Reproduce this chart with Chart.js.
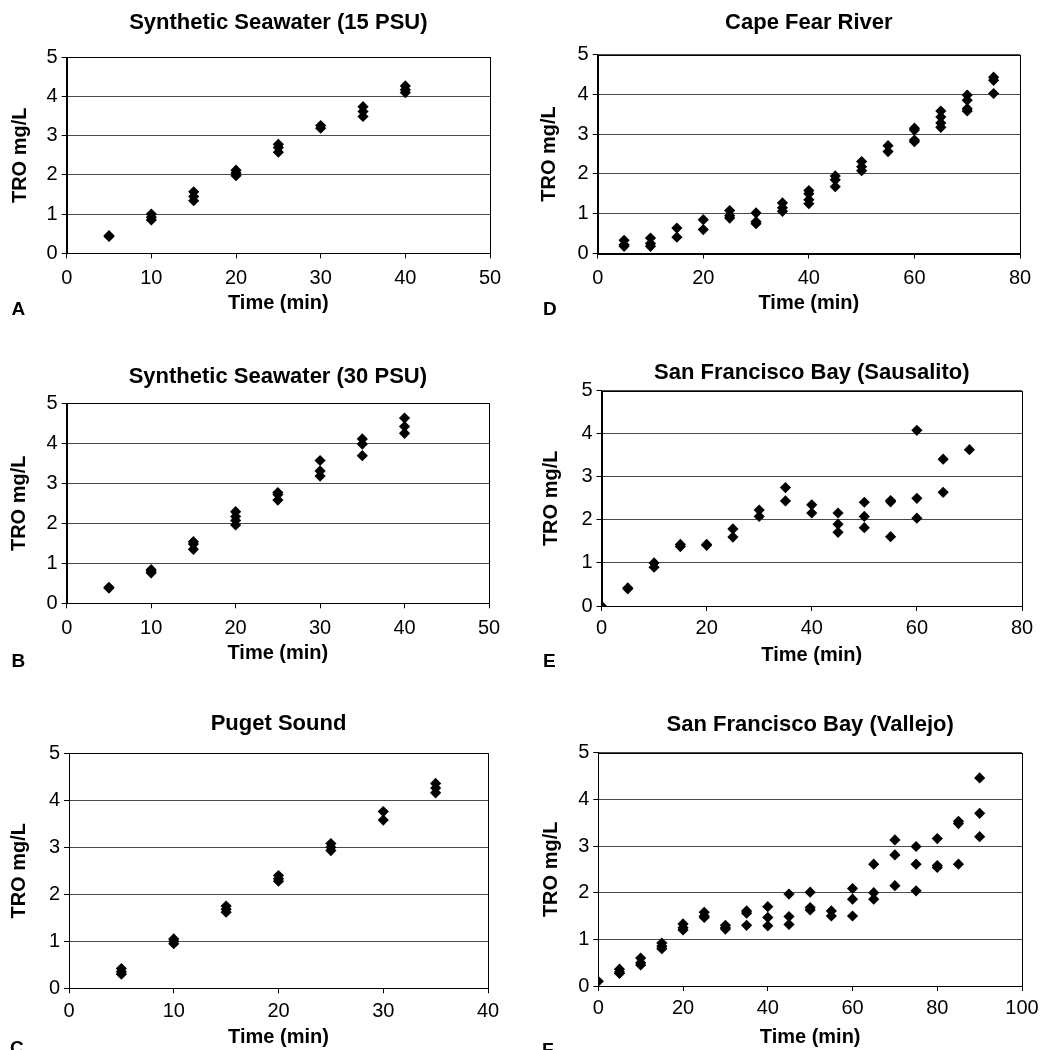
<!DOCTYPE html>
<html>
<head>
<meta charset="utf-8">
<script src="https://cdn.jsdelivr.net/npm/chart.js@4.4.1/dist/chart.umd.min.js"></script>
<style>
  html, body { margin: 0; padding: 0; background: #fff; overflow: hidden; width: 1043px; height: 1050px; }
  canvas { position: absolute; }
</style>
</head>
<body>
<script>
// ---- data ----
const panelTitles = ['Synthetic Seawater (15 PSU)', 'Synthetic Seawater (30 PSU)', 'Puget Sound',
                     'Cape Fear River', 'San Francisco Bay (Sausalito)', 'San Francisco Bay (Vallejo)'];
const panelLetters = ['A', 'B', 'C', 'D', 'E', 'F'];
const xAxisTitle = 'Time (min)';
const yAxisTitle = 'TRO mg/L';
const yTickValues = [0, 1, 2, 3, 4, 5];
const xMaxValues = [50, 50, 40, 80, 80, 100];
const xStepValues = [10, 10, 10, 20, 20, 20];

const A_time = [5,5,10,10,10,15,15,15,20,20,20,25,25,25,30,30,35,35,35,40,40,40];
const A_tro  = [0.45,0.43,1.0,0.92,0.85,1.57,1.45,1.34,2.12,2.05,1.98,2.78,2.7,2.58,3.26,3.19,3.74,3.62,3.49,4.27,4.17,4.1];

const B_time = [5,5,10,10,10,15,15,15,20,20,20,20,25,25,25,30,30,30,35,35,35,40,40,40];
const B_tro  = [0.4,0.38,0.84,0.8,0.76,1.54,1.48,1.35,2.29,2.17,2.07,1.96,2.77,2.72,2.58,3.57,3.31,3.18,4.11,3.98,3.69,4.63,4.42,4.25];

const C_time = [5,5,5,10,10,10,15,15,15,20,20,20,25,25,25,30,30,35,35,35];
const C_tro  = [0.42,0.35,0.3,1.05,1.0,0.95,1.75,1.68,1.62,2.4,2.33,2.28,3.08,3.0,2.93,3.76,3.58,4.36,4.26,4.16];

const D_time = [5,5,5,10,10,10,15,15,20,20,25,25,25,30,30,30,35,35,35,40,40,40,40,45,45,45,50,50,50,55,55,60,60,60,60,65,65,65,65,70,70,70,70,75,75,75];
const D_tro  = [0.33,0.22,0.18,0.39,0.25,0.18,0.64,0.41,0.85,0.6,1.08,0.95,0.89,1.02,0.8,0.75,1.27,1.15,1.06,1.58,1.5,1.35,1.25,1.95,1.85,1.68,2.31,2.18,2.08,2.71,2.56,3.15,3.1,2.85,2.81,3.58,3.43,3.28,3.17,3.98,3.85,3.64,3.58,4.43,4.35,4.02];

const E_time = [0,5,5,10,10,15,15,20,20,25,25,30,30,35,35,40,40,45,45,45,50,50,50,55,55,55,60,60,60,65,65,70];
const E_tro  = [0,0.42,0.4,1.0,0.9,1.43,1.38,1.43,1.41,1.79,1.6,2.23,2.08,2.75,2.44,2.35,2.16,2.16,1.9,1.71,2.41,2.08,1.82,2.45,2.42,1.61,4.08,2.5,2.04,3.41,2.64,3.63];

const F_time = [0,5,5,5,10,10,10,15,15,15,20,20,20,25,25,25,30,30,30,35,35,35,40,40,40,45,45,45,50,50,50,55,55,60,60,60,65,65,65,70,70,70,75,75,75,80,80,80,85,85,85,90,90,90];
const F_tro  = [0.1,0.36,0.3,0.27,0.6,0.5,0.45,0.92,0.85,0.8,1.33,1.25,1.2,1.58,1.5,1.47,1.3,1.25,1.22,1.61,1.56,1.3,1.7,1.47,1.29,1.97,1.49,1.32,2.01,1.68,1.63,1.61,1.5,2.09,1.86,1.5,2.61,2.0,1.86,3.13,2.81,2.15,2.99,2.61,2.04,3.16,2.58,2.54,3.53,3.48,2.61,4.46,3.7,3.2];

const seriesTimes = [A_time, B_time, C_time, D_time, E_time, F_time];
const seriesTro = [A_tro, B_tro, C_tro, D_tro, E_tro, F_tro];

// ---- layout (page pixel positions measured on the reference) ----
const layoutSpec = [
  {col: 0,   row: 0,   plot: {l: 66.7, t: 57.3,  r: 490,    b: 253.3}, titleY: 23.3,  yTitleX: 20.1,  xTitleY: 303.3,  tickPad: 8,   letter: {x: 11.5, y: 315}},
  {col: 0,   row: 340, plot: {l: 66.7, t: 403.3, r: 489,    b: 603.3}, titleY: 376.7, yTitleX: 19.8,  xTitleY: 653.3,  tickPad: 8,   letter: {x: 11.5, y: 667}},
  {col: 0,   row: 695, plot: {l: 69,   t: 753.3, r: 488.3,  b: 988.3}, titleY: 724,   yTitleX: 19.8,  xTitleY: 1036.6, tickPad: 6.4, letter: {x: 10,   y: 1054}},
  {col: 521, row: 0,   plot: {l: 597.7,t: 54.5,  r: 1019.7, b: 253.5}, titleY: 23.3,  yTitleX: 549.8, xTitleY: 303.3,  tickPad: 7.8, letter: {x: 543,  y: 315}},
  {col: 521, row: 340, plot: {l: 601.5,t: 390.7, r: 1022.3, b: 606},   titleY: 373.3, yTitleX: 551.4, xTitleY: 655,    tickPad: 5.3, letter: {x: 543,  y: 667}},
  {col: 521, row: 695, plot: {l: 598.3,t: 752.7, r: 1024,   b: 986},   titleY: 724.5, yTitleX: 551.8, xTitleY: 1036.6, tickPad: 5.3, letter: {x: 542,  y: 1056}}
];

const FONT = '"Liberation Sans", Arial, Helvetica, sans-serif';
const RIGHT_PAD = 20, BOTTOM_PAD = 10;
const TITLE_SIZE = 22, TITLE_LH = 1.2;
const AXT_SIZE = 20, AXT_LH = 1.2;
const TICK_SIZE = 20;

const framePlugin = {
  id: 'frame',
  beforeDatasetsDraw(chart) {
    const {ctx, chartArea: a} = chart;
    ctx.save();
    ctx.strokeStyle = '#000';
    ctx.lineWidth = 1;
    const l = Math.round(a.left) + 0.5, t = Math.round(a.top) + 0.5;
    const r = Math.round(a.right) + 0.5, b = Math.round(a.bottom) + 0.5;
    ctx.strokeRect(l, t, r - l, b - t);
    ctx.restore();
  }
};

const letterPlugin = {
  id: 'panelLetter',
  afterDraw(chart, args, opts) {
    const ctx = chart.ctx;
    ctx.save();
    ctx.font = 'bold 19px ' + FONT;
    ctx.fillStyle = '#000';
    ctx.textAlign = 'left';
    ctx.textBaseline = 'alphabetic';
    ctx.fillText(opts.text, opts.x, opts.y);
    ctx.restore();
  }
};

layoutSpec.forEach((s, i) => {
  const cv = document.createElement('canvas');
  const w = Math.round(s.plot.r + RIGHT_PAD - s.col);
  const h = Math.round(s.xTitleY + AXT_SIZE * AXT_LH / 2 + BOTTOM_PAD - s.row);
  cv.width = w; cv.height = h;
  cv.style.left = s.col + 'px';
  cv.style.top = s.row + 'px';
  cv.style.width = w + 'px';
  cv.style.height = h + 'px';
  document.body.appendChild(cv);

  const titleHalf = TITLE_SIZE * TITLE_LH / 2;
  const padTop = s.titleY - titleHalf - s.row;
  const titlePadBottom = s.plot.t - s.titleY - titleHalf;
  const padLeft = s.yTitleX - AXT_SIZE * AXT_LH / 2 - s.col;
  const yWidth = s.plot.l - s.col - padLeft;
  const xHeight = (s.row + h - BOTTOM_PAD) - s.plot.b;

  const pts = seriesTimes[i].map((t, k) => ({x: t, y: seriesTro[i][k]}));

  new Chart(cv, {
    type: 'scatter',
    data: {
      datasets: [{
        data: pts,
        pointStyle: 'rectRot',
        pointRadius: 5.6,
        borderWidth: 0,
        backgroundColor: '#000',
        borderColor: '#000'
      }]
    },
    options: {
      responsive: false,
      maintainAspectRatio: false,
      animation: false,
      events: [],
      layout: { padding: { left: padLeft, top: padTop, right: RIGHT_PAD, bottom: BOTTOM_PAD } },
      plugins: {
        legend: { display: false },
        tooltip: { enabled: false },
        title: {
          display: true,
          text: panelTitles[i],
          fullSize: false,
          color: '#000',
          font: { family: FONT, size: TITLE_SIZE, weight: 'bold', lineHeight: TITLE_LH },
          padding: { top: 0, bottom: titlePadBottom }
        },
        panelLetter: { text: panelLetters[i], x: s.letter.x - s.col, y: s.letter.y - s.row }
      },
      scales: {
        x: {
          type: 'linear',
          min: 0,
          max: xMaxValues[i],
          afterFit(scale) { scale.height = xHeight; },
          ticks: {
            stepSize: xStepValues[i],
            color: '#000',
            padding: s.tickPad,
            maxRotation: 0,
            font: { family: FONT, size: TICK_SIZE }
          },
          grid: { drawOnChartArea: false, drawTicks: true, tickLength: 5, tickColor: '#000' },
          border: { display: true, color: '#000', width: 1 },
          title: {
            display: true,
            text: xAxisTitle,
            color: '#000',
            padding: { top: 0, bottom: 0 },
            font: { family: FONT, size: AXT_SIZE, weight: 'bold', lineHeight: AXT_LH }
          }
        },
        y: {
          type: 'linear',
          min: 0,
          max: 5,
          afterFit(scale) { scale.width = yWidth; },
          afterBuildTicks(scale) { scale.ticks = yTickValues.map(v => ({value: v})); },
          ticks: {
            color: '#000',
            padding: 4,
            font: { family: FONT, size: TICK_SIZE }
          },
          grid: { color: '#4a4a4a', lineWidth: 1, drawTicks: true, tickLength: 5, tickColor: '#000' },
          border: { display: true, color: '#000', width: 1 },
          title: {
            display: true,
            text: yAxisTitle,
            color: '#000',
            padding: { top: 0, bottom: 0 },
            font: { family: FONT, size: AXT_SIZE, weight: 'bold', lineHeight: AXT_LH }
          }
        }
      }
    },
    plugins: [framePlugin, letterPlugin]
  });
});
</script>
</body>
</html>
